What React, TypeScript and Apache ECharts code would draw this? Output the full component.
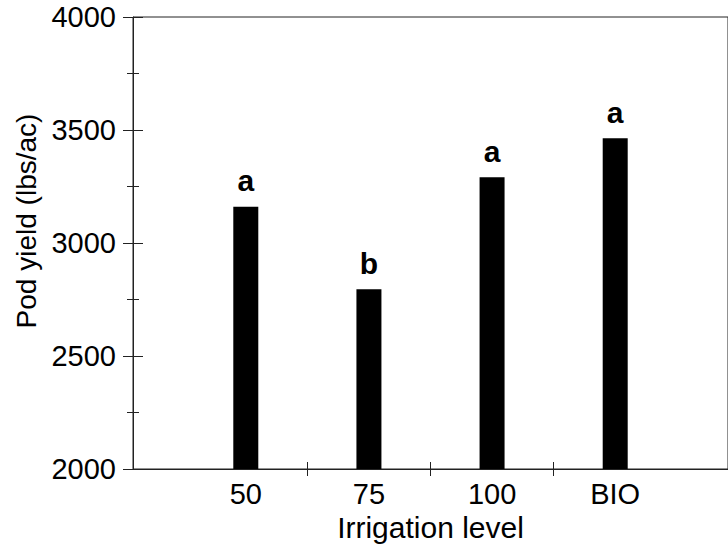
import React, { useEffect, useRef } from "react";
import * as echarts from "echarts";

const categories = ["50", "75", "100", "BIO"];
const podYield = [3160, 2795, 3291, 3463];
const letters = ["a", "b", "a", "a"];
const yTicks = { min: 2000, max: 4000, interval: 500 };

const FONT = "'Liberation Sans', Arial, Helvetica, sans-serif";
const LINE = "#222";
const FS = 29;

export default function App() {
  const ref = useRef<HTMLDivElement>(null);
  useEffect(() => {
    if (!ref.current) return;
    const chart = echarts.init(ref.current, null, { renderer: "svg" });
    const positions = categories.map((_, i) => i + 1);
    const xMin = 1 - 114.5 / 125;
    const xMax = categories.length + 114.5 / 125;
    const tickVals = positions.slice(0, -1).map((p) => p + 0.5);
    const baseX = {
      type: "value" as const,
      min: xMin,
      max: xMax,
      position: "bottom" as const,
      splitLine: { show: false },
    };
    const baseY = {
      type: "value" as const,
      min: yTicks.min,
      max: yTicks.max,
      interval: yTicks.interval,
      position: "left" as const,
      splitLine: { show: false },
    };
    chart.setOption({
      animation: false,
      grid: {
        left: 133,
        top: 17,
        right: -9,
        bottom: 80,
        show: true,
        borderColor: LINE,
        borderWidth: 1,
        backgroundColor: "transparent",
      },
      xAxis: [
        {
          ...baseX,
          axisLine: { show: true, lineStyle: { color: LINE, width: 1 } },
          axisTick: {
            show: true,
            length: 7,
            customValues: tickVals,
            lineStyle: { color: LINE },
          },
          axisLabel: {
            show: true,
            customValues: positions,
            formatter: (v: number) => categories[Math.round(v) - 1] ?? "",
            color: "#000",
            fontSize: FS,
            fontFamily: FONT,
            margin: 10,
          },
          name: "Irrigation level",
          nameLocation: "middle",
          nameGap: 39,
          nameTextStyle: { color: "#000", fontSize: FS + 1, fontFamily: FONT },
        },
        {
          ...baseX,
          axisLine: { show: false },
          axisTick: {
            show: true,
            inside: true,
            length: 7,
            customValues: tickVals,
            lineStyle: { color: LINE },
          },
          axisLabel: { show: false },
        },
      ],
      yAxis: [
        {
          ...baseY,
          axisLine: { show: true, lineStyle: { color: LINE, width: 1 } },
          axisTick: { show: true, length: 10, lineStyle: { color: LINE } },
          minorTick: { show: true, splitNumber: 2, length: 6, lineStyle: { color: LINE } },
          axisLabel: {
            color: "#000",
            fontSize: FS,
            fontFamily: FONT,
            margin: 17,
            formatter: (v: number) => String(v),
          },
          name: "Pod yield (lbs/ac)",
          nameLocation: "middle",
          nameGap: 89,
          nameTextStyle: {
            color: "#000",
            fontSize: FS - 1,
            fontFamily: FONT,
            padding: [0, 0, 0, 44],
          },
        },
        {
          ...baseY,
          axisLine: { show: false },
          axisTick: { show: true, inside: true, length: 10, lineStyle: { color: LINE } },
          minorTick: { show: true, splitNumber: 2, length: 6, lineStyle: { color: LINE } },
          axisLabel: { show: false },
        },
      ],
      series: [
        {
          type: "bar",
          xAxisIndex: 0,
          yAxisIndex: 0,
          barWidth: 25,
          data: podYield.map((v, i) => [positions[i], v]),
          itemStyle: { color: "#000" },
          label: {
            show: true,
            position: "top",
            distance: 11,
            formatter: (p: any) => letters[p.dataIndex],
            color: "#000",
            fontSize: 30,
            fontWeight: "bold",
            fontFamily: FONT,
          },
        },
      ],
    });
    return () => chart.dispose();
  }, []);
  return (
    <div
      ref={ref}
      style={{ position: "absolute", left: 0, top: 0, width: 728, height: 549 }}
    />
  );
}
